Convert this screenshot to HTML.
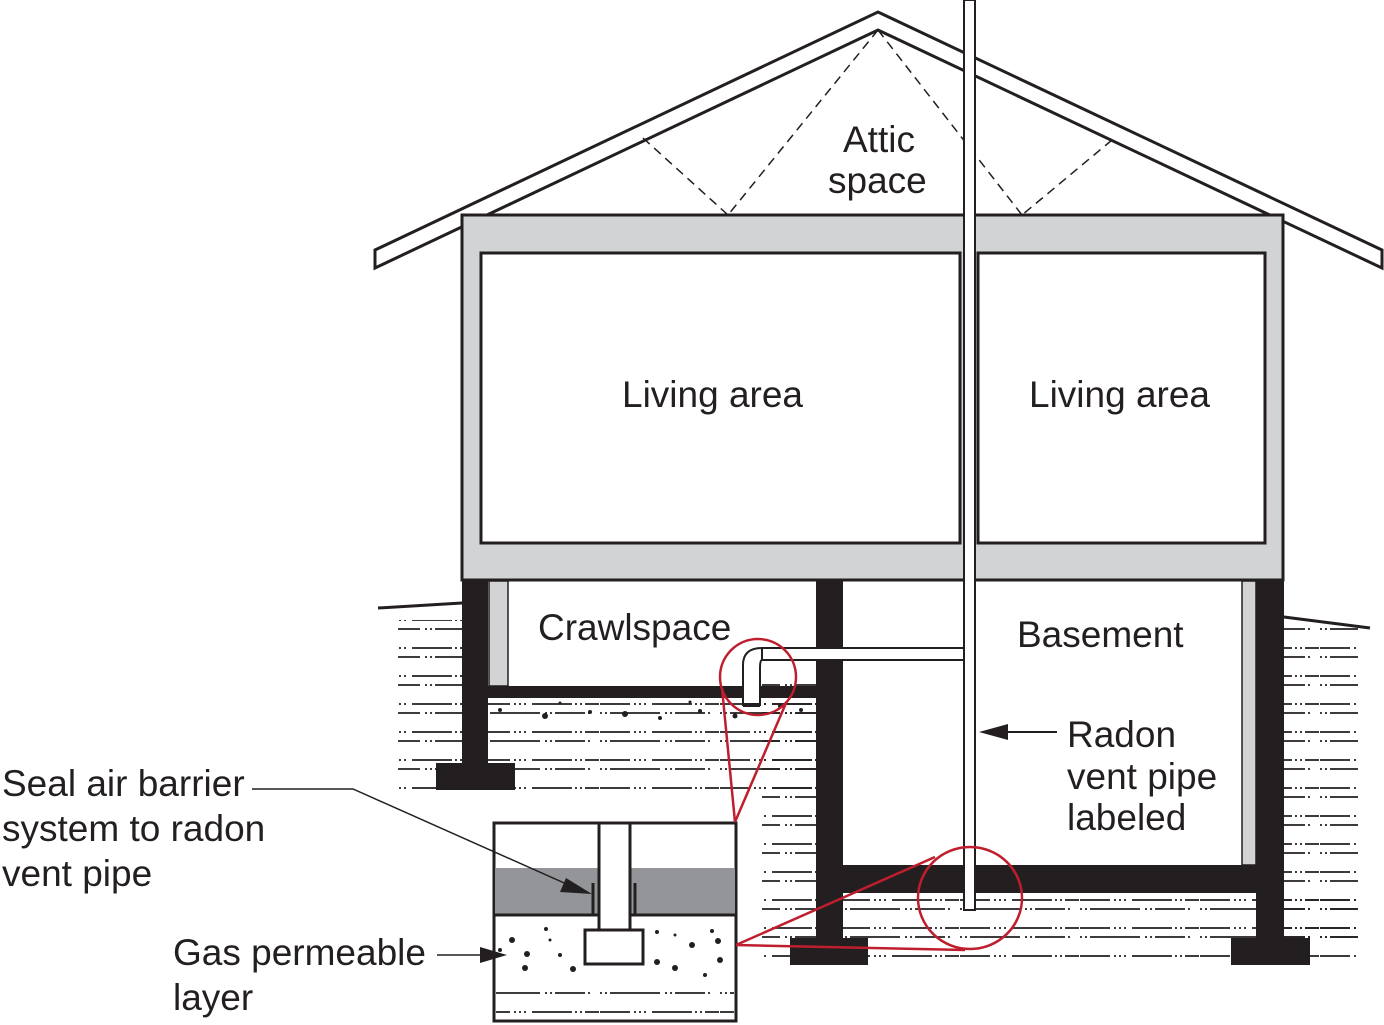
<!DOCTYPE html>
<html><head><style>body{margin:0;background:#fff}svg{display:block}text{font-family:"Liberation Sans",Arial,sans-serif;font-size:37px;fill:#231f20}</style></head><body>
<svg width="1384" height="1025" viewBox="0 0 1384 1025">
<defs>
<pattern id="soil" width="120" height="28" patternUnits="userSpaceOnUse">
<line x1="0" y1="4" x2="120" y2="4" stroke="#231f20" stroke-width="1.8" stroke-dasharray="30 4 2 3 2 3 2 6 40 3 2 3 2 3 14 3"/>
<line x1="0" y1="13" x2="120" y2="13" stroke="#231f20" stroke-width="1.8" stroke-dasharray="2 3 2 3 50 5 2 3 2 3 30 3 2 12"/>
</pattern>
</defs>
<rect x="398" y="620" width="64" height="175" fill="url(#soil)"/>
<rect x="488" y="700" width="328" height="95" fill="url(#soil)"/>
<rect x="762" y="680" width="54" height="280" fill="url(#soil)"/>
<rect x="843" y="895" width="515" height="65" fill="url(#soil)"/>
<rect x="1284" y="625" width="74" height="330" fill="url(#soil)"/>
<g fill="#231f20">
<circle cx="500" cy="710" r="2"/><circle cx="545" cy="716" r="3"/><circle cx="590" cy="712" r="2"/><circle cx="625" cy="714" r="3"/><circle cx="660" cy="718" r="2"/><circle cx="700" cy="711" r="2"/><circle cx="735" cy="716" r="2.5"/><circle cx="780" cy="706" r="2"/><circle cx="801" cy="710" r="2"/><circle cx="560" cy="703" r="1.5"/><circle cx="690" cy="702" r="1.5"/>
</g>
<polygon points="375,250 878,12 1382,250 1382,268 878,30 375,268" fill="#fff" stroke="#231f20" stroke-width="3"/>
<g stroke="#231f20" stroke-width="1.5" stroke-dasharray="9 6" fill="none">
<line x1="878" y1="30" x2="728" y2="215"/><line x1="878" y1="30" x2="1022" y2="215"/>
<line x1="643" y1="138" x2="728" y2="215"/><line x1="1112" y1="140" x2="1022" y2="215"/>
</g>
<rect x="462" y="215" width="821" height="365" fill="#d1d3d4" stroke="#231f20" stroke-width="3"/>
<rect x="481" y="253" width="479" height="290" fill="#fff" stroke="#231f20" stroke-width="3"/>
<rect x="978" y="253" width="287" height="290" fill="#fff" stroke="#231f20" stroke-width="3"/>
<g fill="#231f20">
<rect x="462" y="580" width="26" height="185"/>
<rect x="436" y="763" width="79" height="27"/>
<rect x="488" y="686" width="328" height="12"/>
<rect x="816" y="580" width="27" height="360"/>
<rect x="790" y="938" width="78" height="27"/>
<rect x="843" y="865" width="415" height="28"/>
<rect x="1256" y="580" width="28" height="360"/>
<rect x="1231" y="938" width="79" height="27"/>
</g>
<rect x="489" y="581" width="19" height="105" fill="#d1d3d4" stroke="#231f20" stroke-width="1.5"/>
<rect x="1242" y="581" width="14" height="284" fill="#d1d3d4" stroke="#231f20" stroke-width="1.5"/>
<line x1="378" y1="608" x2="462" y2="603" stroke="#231f20" stroke-width="3"/>
<line x1="1284" y1="617" x2="1370" y2="628" stroke="#231f20" stroke-width="3"/>
<rect x="762" y="648" width="202" height="12" fill="#fff" stroke="#231f20" stroke-width="2"/>
<path d="M743,705 L743,665 Q743,648 762,648 L762,660 Q760,660 760,668 L760,705 Z" fill="#fff" stroke="#231f20" stroke-width="2"/>
<rect x="743" y="703" width="17" height="4" fill="#231f20"/>
<rect x="964" y="0" width="11" height="910" fill="#fff" stroke="#231f20" stroke-width="2"/>
<line x1="995" y1="732" x2="1057" y2="732" stroke="#231f20" stroke-width="2"/>
<polygon points="979,732 1008,724 1008,740" fill="#231f20"/>
<rect x="494" y="823" width="242" height="198" fill="#fff" stroke="#231f20" stroke-width="3"/>
<rect x="495" y="868" width="240" height="47" fill="#939598"/>
<line x1="494" y1="915" x2="736" y2="915" stroke="#231f20" stroke-width="3"/>
<rect x="496" y="985" width="238" height="35" fill="url(#soil)"/>
<g fill="#231f20">
<circle cx="512" cy="940" r="3"/><circle cx="527" cy="954" r="3"/><circle cx="546" cy="929" r="2"/><circle cx="525" cy="968" r="3"/><circle cx="560" cy="955" r="2"/><circle cx="573" cy="969" r="3"/><circle cx="550" cy="940" r="1.5"/><circle cx="657" cy="932" r="2"/><circle cx="657" cy="962" r="3"/><circle cx="675" cy="935" r="1.5"/><circle cx="692" cy="945" r="3"/><circle cx="675" cy="968" r="3"/><circle cx="712" cy="931" r="2"/><circle cx="718" cy="941" r="3"/><circle cx="720" cy="960" r="3"/><circle cx="705" cy="975" r="2"/><circle cx="500" cy="950" r="2"/>
</g>
<line x1="593" y1="883" x2="593" y2="916" stroke="#231f20" stroke-width="3"/>
<line x1="635" y1="883" x2="635" y2="916" stroke="#231f20" stroke-width="3"/>
<rect x="599" y="823" width="31" height="110" fill="#fff" stroke="#231f20" stroke-width="3"/>
<rect x="585" y="930" width="58" height="34" fill="#fff" stroke="#231f20" stroke-width="3"/>
<polyline points="252,789 353,789 580,890" fill="none" stroke="#231f20" stroke-width="1.5"/>
<polygon points="592,894 566,878 560,892" fill="#231f20"/>
<line x1="437" y1="955" x2="485" y2="955" stroke="#231f20" stroke-width="1.5"/>
<polygon points="507,955 480,947 480,963" fill="#231f20"/>
<g stroke="#be1e2d" stroke-width="2.5" fill="none">
<circle cx="758" cy="677" r="38"/>
<line x1="722" y1="688" x2="735" y2="822"/><line x1="786" y1="703" x2="735" y2="822"/>
<ellipse cx="970" cy="898" rx="52" ry="51"/>
<line x1="736" y1="945" x2="935" y2="857"/><line x1="736" y1="945" x2="965" y2="950"/>
</g>
<text x="843" y="152">Attic</text>
<text x="828" y="193">space</text>
<text x="622" y="407">Living area</text>
<text x="1029" y="407">Living area</text>
<text x="538" y="640">Crawlspace</text>
<text x="1017" y="647">Basement</text>
<text x="1067" y="747">Radon</text>
<text x="1067" y="789">vent pipe</text>
<text x="1067" y="830">labeled</text>
<text x="2" y="796">Seal air barrier</text>
<text x="2" y="841">system to radon</text>
<text x="2" y="886">vent pipe</text>
<text x="173" y="965">Gas permeable</text>
<text x="173" y="1010">layer</text>
</svg>
</body></html>
